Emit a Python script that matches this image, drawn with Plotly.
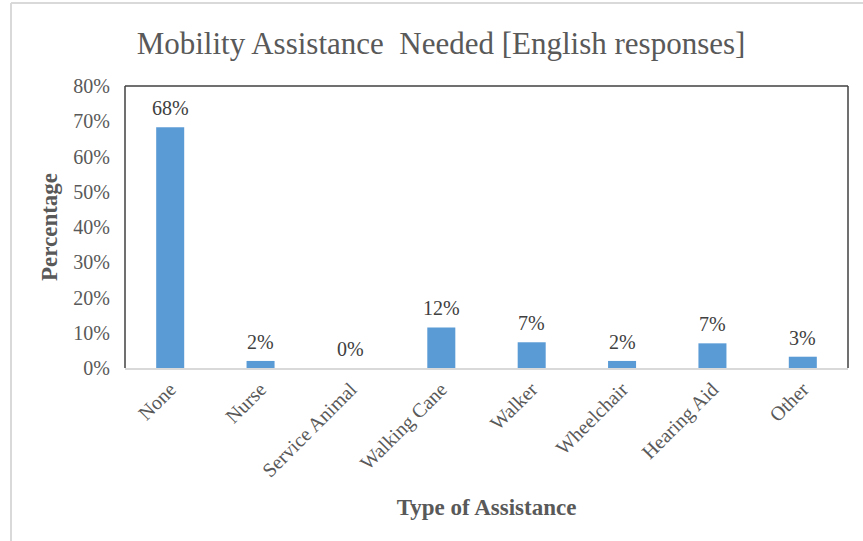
import plotly.graph_objects as go

# Share of respondents needing each type of mobility assistance
categories = ["None", "Nurse", "Service Animal", "Walking Cane",
              "Walker", "Wheelchair", "Hearing Aid", "Other"]
shares = [0.683, 0.020, 0.0, 0.115, 0.073, 0.020, 0.070, 0.032]
y_ticks = [0, 0.1, 0.2, 0.3, 0.4, 0.5, 0.6, 0.7, 0.8]

SERIF = "Liberation Serif, Times New Roman, serif"
W, H = 863, 541
L, R, T, B = 125, 15, 86, 173
pw, ph = W - L - R, H - T - B

fig = go.Figure(
    go.Bar(
        x=categories,
        y=shares,
        marker=dict(color="#5B9BD5", line=dict(width=0)),
        hoverinfo="x+y",
    )
)

# value labels above each bar
label_font = dict(family=SERIF, size=20, color="#404040")
annotations = [
    dict(x=c, y=v, xref="x", yref="y", text=f"{v:.0%}", showarrow=False,
         xanchor="center", yanchor="bottom", yshift=6, font=label_font)
    for c, v in zip(categories, shares)
]

def px_x(x):
    return (x - L) / pw

def px_y(y):
    return (H - B - y) / ph

dark = dict(color="#404040", width=1.5)
light = dict(color="#D9D9D9", width=2)
shapes = [
    # plot-area frame: left, top, right
    dict(type="line", xref="paper", yref="paper", x0=0, x1=0, y0=0, y1=1, line=dark),
    dict(type="line", xref="paper", yref="paper", x0=0, x1=1, y0=1, y1=1, line=dark),
    dict(type="line", xref="paper", yref="paper", x0=1, x1=1, y0=0, y1=1, line=dark),
    # outer chart-area border
    dict(type="line", xref="paper", yref="paper", x0=px_x(11), x1=px_x(W + 5),
         y0=px_y(3), y1=px_y(3), line=light),
    dict(type="line", xref="paper", yref="paper", x0=px_x(11), x1=px_x(11),
         y0=px_y(H + 5), y1=px_y(3), line=light),
]

fig.update_layout(
    width=W,
    height=H,
    margin=dict(l=L, r=R, t=T, b=B, autoexpand=False),
    paper_bgcolor="white",
    plot_bgcolor="white",
    showlegend=False,
    bargap=0.69,
    shapes=shapes,
    annotations=annotations,
    title=dict(
        text="Mobility Assistance  Needed [English responses]",
        x=441 / W, xref="container", xanchor="center",
        y=1 - 43 / H, yref="container", yanchor="middle",
        font=dict(family=SERIF, size=31, color="#595959"),
    ),
    xaxis=dict(
        showline=True, linecolor="#D9D9D9", linewidth=1.5,
        showgrid=False, ticks="", tickangle=-45,
        tickfont=dict(family=SERIF, size=20, color="#595959"),
        title=dict(text="<b>Type of Assistance</b>", standoff=19,
                   font=dict(family=SERIF, size=23, color="#595959")),
        automargin=False,
    ),
    yaxis=dict(
        range=[0, 0.8], tickvals=y_ticks, tickformat=".0%",
        showgrid=False, zeroline=False, showline=False, ticks="",
        ticklabelstandoff=14,
        tickfont=dict(family=SERIF, size=20, color="#595959"),
        title=dict(text="<b>Percentage</b>", standoff=9,
                   font=dict(family=SERIF, size=23, color="#595959")),
        automargin=False,
    ),
)

fig.write_html("out.html")
